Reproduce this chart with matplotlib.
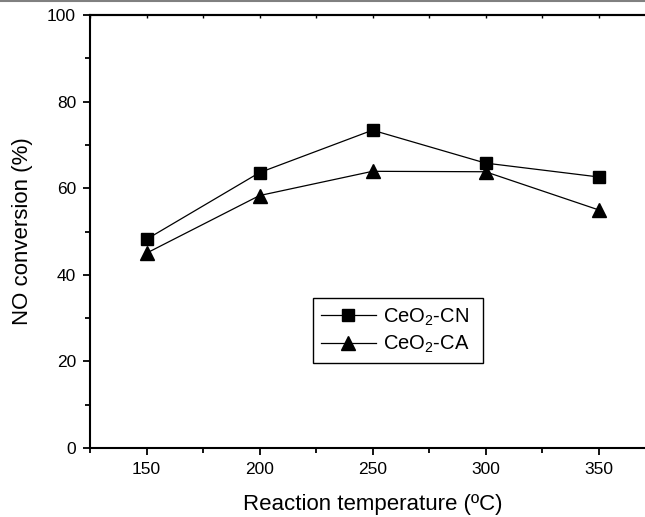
import matplotlib
matplotlib.use("Agg")
import matplotlib.pyplot as plt
from matplotlib.ticker import MultipleLocator

plt.rcParams['font.family'] = ['Liberation Sans', 'DejaVu Sans']
plt.rcParams['mathtext.default'] = 'regular'

# data
temperature = [150, 200, 250, 300, 350]
conv_cn = [48.2, 63.6, 73.4, 65.8, 62.6]
conv_ca = [45.0, 58.3, 63.9, 63.8, 55.0]
series_labels = ['CeO$_2$-CN', 'CeO$_2$-CA']

fig = plt.figure(figsize=(6.45, 5.17), dpi=100)
ax = fig.add_axes([90 / 645, 69 / 517, 565 / 645, 433 / 517])

ax.plot(temperature, conv_cn, color='black', lw=0.9, marker='s', ms=8.5,
        label=series_labels[0])
ax.plot(temperature, conv_ca, color='black', lw=0.9, marker='^', ms=9.5,
        label=series_labels[1])

ax.set_xlim(125, 375)
ax.set_ylim(0, 100)
ax.xaxis.set_major_locator(MultipleLocator(50))
ax.xaxis.set_minor_locator(MultipleLocator(25))
ax.yaxis.set_major_locator(MultipleLocator(20))
ax.yaxis.set_minor_locator(MultipleLocator(10))

for side in ['left', 'bottom', 'top']:
    ax.spines[side].set_linewidth(1.5)
ax.spines['right'].set_visible(False)

ax.tick_params(axis='both', which='major', direction='out', length=5, width=1.3,
               labelsize=12.5, pad=5)
ax.tick_params(axis='both', which='minor', direction='out', length=3.5, width=1.3)

# small inward ticks on the top axis
top = ax.secondary_xaxis('top')
top.xaxis.set_major_locator(MultipleLocator(50))
top.xaxis.set_minor_locator(MultipleLocator(25))
top.tick_params(which='both', direction='in', length=2.5, width=1.0, labeltop=False)
top.spines['top'].set_linewidth(1.5)

ax.set_xlabel('Reaction temperature (ºC)', fontsize=16, labelpad=12)
ax.set_ylabel('NO conversion (%)', fontsize=16, labelpad=10)

leg = ax.legend(loc='lower left', bbox_to_anchor=(0.395, 0.196, 0.30, 0.164),
                mode='expand', borderaxespad=0, fontsize=14.5, handlelength=2.7,
                handletextpad=0.35, fancybox=False, edgecolor='black', framealpha=1,
                labelspacing=0.3, borderpad=0.4)
leg.get_frame().set_linewidth(1.0)

fig.add_artist(plt.Line2D([0, 1], [0.999, 0.999], color='gray', lw=1.5))

fig.savefig('out.png', dpi=100)
